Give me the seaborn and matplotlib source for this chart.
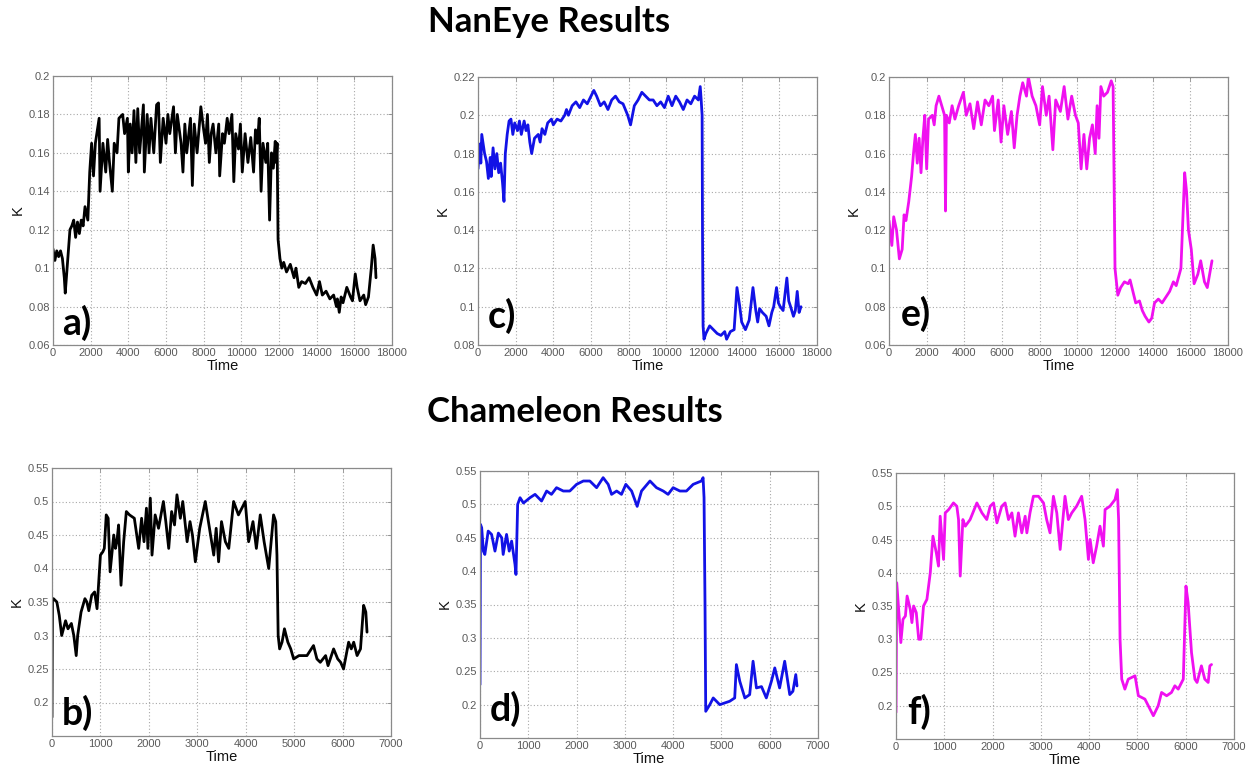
import matplotlib
matplotlib.use("Agg")
import matplotlib.pyplot as plt
import seaborn as sns
from matplotlib.ticker import FuncFormatter

# ---------------- data (time, K) ----------------
naneye_a = [(0,0.110),(100,0.104),(200,0.109),(300,0.106),(400,0.109),(500,0.105),(600,0.095),(650,0.087),
    (750,0.100),(900,0.120),(1000,0.122),(1100,0.125),(1200,0.116),(1300,0.124),(1400,0.118),(1500,0.125),
    (1600,0.122),(1700,0.132),(1850,0.125),(1950,0.150),(2050,0.165),(2150,0.148),(2250,0.165),(2400,0.175),
    (2450,0.178),(2500,0.140),(2650,0.165),(2800,0.150),(2900,0.167),(3000,0.155),(3150,0.140),(3250,0.165),
    (3400,0.160),(3500,0.178),(3700,0.180),(3800,0.170),(3950,0.178),(4000,0.150),(4100,0.175),(4200,0.160),
    (4300,0.182),(4400,0.155),(4500,0.183),(4600,0.160),(4800,0.185),(4850,0.150),(5000,0.180),(5100,0.160),
    (5200,0.178),(5350,0.160),(5500,0.185),(5600,0.186),(5700,0.155),(5850,0.178),(6000,0.165),(6100,0.180),
    (6200,0.170),(6400,0.184),(6500,0.160),(6600,0.180),(6800,0.165),(6900,0.150),(7000,0.175),(7100,0.160),
    (7300,0.178),(7400,0.143),(7500,0.175),(7650,0.160),(7850,0.184),(8000,0.172),(8100,0.165),(8200,0.180),
    (8300,0.155),(8400,0.170),(8500,0.175),(8650,0.160),(8800,0.175),(8850,0.148),(9000,0.170),(9100,0.165),
    (9250,0.178),(9350,0.170),(9500,0.180),(9600,0.145),(9700,0.170),(9850,0.162),(9950,0.175),(10050,0.150),
    (10200,0.170),(10350,0.155),(10500,0.168),(10650,0.150),(10750,0.172),(10850,0.165),(10950,0.178),
    (11050,0.140),(11150,0.165),(11300,0.155),(11400,0.165),(11500,0.125),(11600,0.160),(11700,0.152),
    (11800,0.166),(11850,0.155),(11900,0.165),(11950,0.115),(12050,0.105),(12150,0.100),(12250,0.103),
    (12400,0.098),(12600,0.102),(12800,0.095),(12900,0.100),(13050,0.090),(13200,0.093),(13400,0.092),
    (13600,0.095),(13800,0.090),(14000,0.086),(14150,0.093),(14300,0.086),(14500,0.088),(14700,0.084),
    (14900,0.086),(15050,0.080),(15100,0.084),(15200,0.077),(15300,0.085),(15400,0.082),(15600,0.090),
    (15800,0.085),(15900,0.083),(16050,0.097),(16150,0.090),(16300,0.083),(16500,0.086),(16600,0.081),
    (16750,0.085),(16900,0.100),(17000,0.112),(17100,0.105),(17150,0.095)]

naneye_c = [(0,0.172),(100,0.185),(150,0.175),(200,0.190),(350,0.180),(450,0.176),(550,0.167),(650,0.178),
    (700,0.168),(800,0.183),(900,0.172),(1000,0.180),(1100,0.170),(1200,0.175),(1300,0.165),(1380,0.155),
    (1450,0.180),(1550,0.190),(1650,0.197),(1750,0.198),(1850,0.190),(1950,0.196),(2100,0.192),(2200,0.197),
    (2300,0.190),(2450,0.197),(2550,0.192),(2650,0.195),(2750,0.186),(2850,0.180),(3000,0.188),(3200,0.190),
    (3300,0.186),(3400,0.193),(3550,0.190),(3700,0.196),(3900,0.198),(4000,0.195),(4200,0.198),(4400,0.197),
    (4600,0.200),(4700,0.203),(4800,0.200),(5000,0.205),(5200,0.207),(5400,0.204),(5600,0.208),(5800,0.206),
    (6000,0.210),(6150,0.213),(6300,0.210),(6500,0.205),(6700,0.207),(6900,0.203),(7100,0.208),(7300,0.210),
    (7500,0.207),(7700,0.206),(7950,0.200),(8100,0.195),(8300,0.205),(8500,0.208),(8700,0.212),(8900,0.210),
    (9100,0.208),(9300,0.208),(9500,0.205),(9700,0.207),(9900,0.204),(10100,0.210),(10300,0.205),(10500,0.210),
    (10700,0.207),(10900,0.203),(11100,0.208),(11300,0.206),(11500,0.210),(11700,0.208),(11800,0.215),
    (11850,0.208),(11900,0.200),(11920,0.140),(11950,0.090),(12000,0.083),(12100,0.086),(12300,0.090),
    (12500,0.088),(12700,0.086),(12900,0.085),(13100,0.087),(13200,0.083),(13400,0.087),(13600,0.088),
    (13750,0.110),(13900,0.100),(14000,0.092),(14200,0.088),(14400,0.093),(14600,0.110),(14750,0.098),
    (14850,0.092),(14950,0.099),(15100,0.097),(15300,0.095),(15450,0.090),(15600,0.097),(15700,0.100),
    (15850,0.110),(15950,0.102),(16050,0.100),(16200,0.098),(16400,0.115),(16500,0.103),(16600,0.100),
    (16750,0.095),(16850,0.098),(16950,0.108),(17050,0.097),(17150,0.100)]

naneye_e = [(0,0.125),(150,0.112),(250,0.127),(400,0.120),(550,0.105),(700,0.110),(800,0.128),(900,0.125),
    (1050,0.135),(1200,0.148),(1300,0.160),(1400,0.170),(1500,0.155),(1600,0.168),(1700,0.150),(1800,0.168),
    (1900,0.180),(2000,0.152),(2100,0.178),(2300,0.180),(2400,0.175),(2500,0.185),(2650,0.190),(2800,0.185),
    (2950,0.180),(3000,0.130),(3050,0.180),(3200,0.176),(3350,0.185),(3500,0.178),(3700,0.185),(3950,0.192),
    (4100,0.180),(4300,0.186),(4500,0.173),(4700,0.187),(4900,0.175),(5100,0.188),(5300,0.185),(5500,0.190),
    (5600,0.172),(5800,0.188),(5950,0.166),(6100,0.185),(6300,0.170),(6500,0.182),(6650,0.163),(6800,0.180),
    (6950,0.190),(7100,0.197),(7300,0.190),(7400,0.200),(7600,0.190),(7800,0.185),(8000,0.175),(8150,0.195),
    (8350,0.180),(8500,0.190),(8700,0.162),(8850,0.188),(9100,0.182),(9300,0.195),(9500,0.178),(9700,0.190),
    (9900,0.180),(10050,0.176),(10200,0.152),(10350,0.170),(10500,0.152),(10650,0.168),(10800,0.175),
    (10950,0.160),(11050,0.185),(11150,0.168),(11250,0.195),(11400,0.190),(11600,0.192),(11800,0.198),
    (11900,0.195),(12000,0.100),(12150,0.086),(12300,0.090),(12500,0.093),(12700,0.092),(12800,0.094),
    (12950,0.088),(13100,0.082),(13300,0.083),(13450,0.078),(13600,0.075),(13800,0.072),(13950,0.074),
    (14100,0.082),(14300,0.084),(14500,0.082),(14700,0.085),(14900,0.088),(15100,0.093),(15250,0.091),
    (15500,0.100),(15700,0.150),(15800,0.140),(15900,0.120),(16050,0.110),(16200,0.092),(16400,0.097),
    (16550,0.104),(16750,0.093),(16900,0.090),(17150,0.104)]

chameleon_b = [(0,0.178),(10,0.355),(30,0.355),(100,0.350),(150,0.330),(200,0.300),(280,0.322),(330,0.310),
    (400,0.318),(450,0.300),(500,0.270),(530,0.300),(600,0.335),(680,0.355),(720,0.350),(760,0.337),
    (820,0.360),(880,0.365),(930,0.340),(1000,0.420),(1050,0.425),(1080,0.430),(1120,0.480),(1160,0.475),
    (1200,0.395),(1275,0.450),(1310,0.430),(1340,0.440),(1375,0.465),(1425,0.375),(1480,0.440),(1535,0.485),
    (1600,0.480),(1700,0.475),(1790,0.430),(1850,0.475),(1900,0.440),(1950,0.490),(1980,0.430),(2030,0.505),
    (2065,0.420),(2130,0.480),(2200,0.460),(2300,0.500),(2350,0.470),(2410,0.430),(2470,0.485),(2530,0.465),
    (2580,0.510),(2650,0.475),(2700,0.500),(2790,0.440),(2850,0.470),(2900,0.450),(2960,0.410),(3050,0.460),
    (3165,0.500),(3230,0.470),(3340,0.420),(3390,0.460),(3440,0.410),(3500,0.470),(3580,0.440),(3650,0.430),
    (3750,0.500),(3850,0.480),(3990,0.500),(4060,0.440),(4150,0.470),(4220,0.430),(4300,0.480),(4380,0.440),
    (4475,0.400),(4575,0.480),(4620,0.470),(4645,0.420),(4670,0.300),(4700,0.280),(4750,0.290),(4800,0.310),
    (4870,0.290),(4930,0.280),(4990,0.265),(5100,0.270),(5265,0.270),(5400,0.285),(5470,0.265),(5540,0.260),
    (5650,0.270),(5700,0.255),(5815,0.280),(5900,0.265),(5960,0.260),(6020,0.250),(6125,0.290),(6180,0.280),
    (6230,0.290),(6300,0.270),(6370,0.280),(6435,0.345),(6480,0.335),(6505,0.305)]

chameleon_d = [(0,0.230),(10,0.470),(35,0.465),(70,0.430),(100,0.425),(170,0.460),(240,0.455),(310,0.430),
    (380,0.457),(450,0.450),(480,0.425),(550,0.455),(605,0.430),(655,0.445),(725,0.410),(745,0.395),
    (780,0.500),(830,0.510),(900,0.502),(1035,0.510),(1140,0.515),(1275,0.505),(1380,0.520),(1480,0.515),
    (1585,0.525),(1725,0.520),(1860,0.520),(2000,0.530),(2140,0.535),(2275,0.535),(2415,0.525),(2550,0.540),
    (2655,0.530),(2725,0.515),(2830,0.520),(2930,0.515),(3020,0.530),(3140,0.520),(3255,0.497),(3345,0.520),
    (3520,0.535),(3655,0.525),(3795,0.520),(3895,0.515),(4000,0.525),(4140,0.520),(4275,0.520),(4415,0.530),
    (4585,0.535),(4620,0.540),(4640,0.510),(4660,0.350),(4675,0.190),(4760,0.200),(4830,0.210),(4965,0.200),
    (5170,0.205),(5275,0.210),(5310,0.260),(5380,0.235),(5485,0.210),(5585,0.215),(5655,0.265),(5725,0.225),
    (5830,0.227),(5930,0.210),(6035,0.235),(6105,0.255),(6205,0.225),(6310,0.265),(6415,0.215),(6480,0.220),
    (6540,0.245),(6565,0.228)]

chameleon_f = [(0,0.190),(15,0.385),(70,0.330),(100,0.295),(145,0.330),(195,0.335),(230,0.365),(295,0.345),
    (330,0.325),(365,0.350),(420,0.340),(470,0.300),(515,0.300),(570,0.350),(640,0.360),(710,0.400),
    (765,0.455),(835,0.430),(880,0.410),(915,0.485),(985,0.420),(1020,0.490),(1090,0.495),(1190,0.505),
    (1260,0.500),(1295,0.480),(1330,0.395),(1385,0.480),(1435,0.470),(1535,0.480),(1675,0.505),(1780,0.490),
    (1880,0.480),(1950,0.500),(2020,0.505),(2090,0.475),(2190,0.500),(2260,0.505),(2330,0.480),(2400,0.490),
    (2465,0.455),(2535,0.490),(2605,0.460),(2675,0.485),(2710,0.460),(2775,0.490),(2845,0.515),(2950,0.515),
    (3055,0.505),(3120,0.480),(3190,0.460),(3260,0.515),(3330,0.490),(3400,0.435),(3500,0.515),(3570,0.480),
    (3640,0.490),(3740,0.500),(3845,0.515),(3915,0.480),(3985,0.420),(4020,0.450),(4085,0.415),(4155,0.440),
    (4225,0.470),(4295,0.440),(4330,0.495),(4430,0.500),(4535,0.510),(4585,0.525),(4610,0.480),(4640,0.300),
    (4675,0.240),(4740,0.225),(4810,0.240),(4950,0.245),(5020,0.215),(5155,0.210),(5260,0.195),(5330,0.185),
    (5430,0.200),(5500,0.220),(5605,0.215),(5705,0.220),(5775,0.230),(5845,0.225),(5950,0.240),(6005,0.380),
    (6050,0.355),(6120,0.280),(6190,0.240),(6235,0.235),(6325,0.260),(6395,0.240),(6465,0.235),(6500,0.260),
    (6535,0.262)]

top_xticks = list(range(0, 18001, 2000))
bottom_xticks = list(range(0, 7001, 1000))
yticks_a = [0.06, 0.08, 0.10, 0.12, 0.14, 0.16, 0.18, 0.20]
yticks_c = [0.08, 0.10, 0.12, 0.14, 0.16, 0.18, 0.20, 0.22]
yticks_bottom = [0.20, 0.25, 0.30, 0.35, 0.40, 0.45, 0.50, 0.55]
panel_labels = ["a)", "c)", "e)", "b)", "d)", "f)"]
row_titles = ["NanEye Results", "Chameleon Results"]

# ---------------- figure ----------------
sns.set_style("white")
plt.rcParams['font.family'] = ['Liberation Sans', 'DejaVu Sans']

W, H = 1249, 772
fig = plt.figure(figsize=(W / 100, H / 100), dpi=100)

BLACK, BLUE, MAGENTA = "#000000", "#1212e6", "#f010f0"

panels = [
    dict(pts=naneye_a, color=BLACK, box=(53, 76, 392, 345), xlim=(0, 18000), xt=top_xticks,
         ylim=(0.06, 0.20), yt=yticks_a, lab=panel_labels[0], lpos=(0.026, 0.037)),
    dict(pts=naneye_c, color=BLUE, box=(478, 77, 817, 345), xlim=(0, 18000), xt=top_xticks,
         ylim=(0.08, 0.22), yt=yticks_c, lab=panel_labels[1], lpos=(0.028, 0.065)),
    dict(pts=naneye_e, color=MAGENTA, box=(889, 77, 1228, 345), xlim=(0, 18000), xt=top_xticks,
         ylim=(0.06, 0.20), yt=yticks_a, lab=panel_labels[2], lpos=(0.036, 0.072)),
    dict(pts=chameleon_b, color=BLACK, box=(52, 468, 391, 736), xlim=(0, 7000), xt=bottom_xticks,
         ylim=(0.15, 0.55), yt=yticks_bottom, lab=panel_labels[3], lpos=(0.028, 0.040)),
    dict(pts=chameleon_d, color=BLUE, box=(480, 471, 818, 738), xlim=(0, 7000), xt=bottom_xticks,
         ylim=(0.15, 0.55), yt=yticks_bottom, lab=panel_labels[4], lpos=(0.028, 0.065)),
    dict(pts=chameleon_f, color=MAGENTA, box=(896, 473, 1234, 739), xlim=(0, 7000), xt=bottom_xticks,
         ylim=(0.15, 0.55), yt=yticks_bottom, lab=panel_labels[5], lpos=(0.032, 0.058)),
]

fmt = FuncFormatter(lambda v, p: "%g" % round(v, 4))
GRAY = "#5a5a5a"

for pnl in panels:
    x0, y0, x1, y1 = pnl["box"]
    ax = fig.add_axes([x0 / W, 1 - y1 / H, (x1 - x0) / W, (y1 - y0) / H])
    t = [p[0] for p in pnl["pts"]]
    k = [p[1] for p in pnl["pts"]]
    sns.lineplot(x=t, y=k, ax=ax, color=pnl["color"], linewidth=2.0,
                 estimator=None, sort=False)
    ax.set_xlim(*pnl["xlim"])
    ax.set_ylim(*pnl["ylim"])
    ax.set_xticks(pnl["xt"])
    ax.set_yticks(pnl["yt"])
    ax.xaxis.set_major_formatter(fmt)
    ax.yaxis.set_major_formatter(fmt)
    ax.grid(True, color="#a8a8a8", linestyle=(0, (1, 2)), linewidth=0.8)
    ax.set_axisbelow(True)
    for s in ax.spines.values():
        s.set_color("#8a8a8a")
        s.set_linewidth(0.9)
    ax.tick_params(direction="in", length=3, width=0.6, color="#8a8a8a",
                   labelsize=8, labelcolor=GRAY, pad=2, top=True, right=True)
    ax.set_xlabel("Time", fontsize=10.5, color="#111111", labelpad=1)
    ax.set_ylabel("K", fontsize=10.5, color="#111111", labelpad=3)
    ax.text(pnl["lpos"][0], pnl["lpos"][1], pnl["lab"], transform=ax.transAxes,
            fontsize=27, fontweight="bold", family=["Lato", "DejaVu Sans"],
            ha="left", va="baseline", color="black", zorder=5)

fig.text(549 / W, 1 - 22 / H, row_titles[0], ha="center", va="center", color="black",
         fontsize=25, fontweight="bold", family=["Lato", "DejaVu Sans"])
fig.text(575 / W, 1 - 412 / H, row_titles[1], ha="center", va="center", color="black",
         fontsize=25, fontweight="bold", family=["Lato", "DejaVu Sans"])

fig.savefig("out.png", dpi=100, facecolor="white")
